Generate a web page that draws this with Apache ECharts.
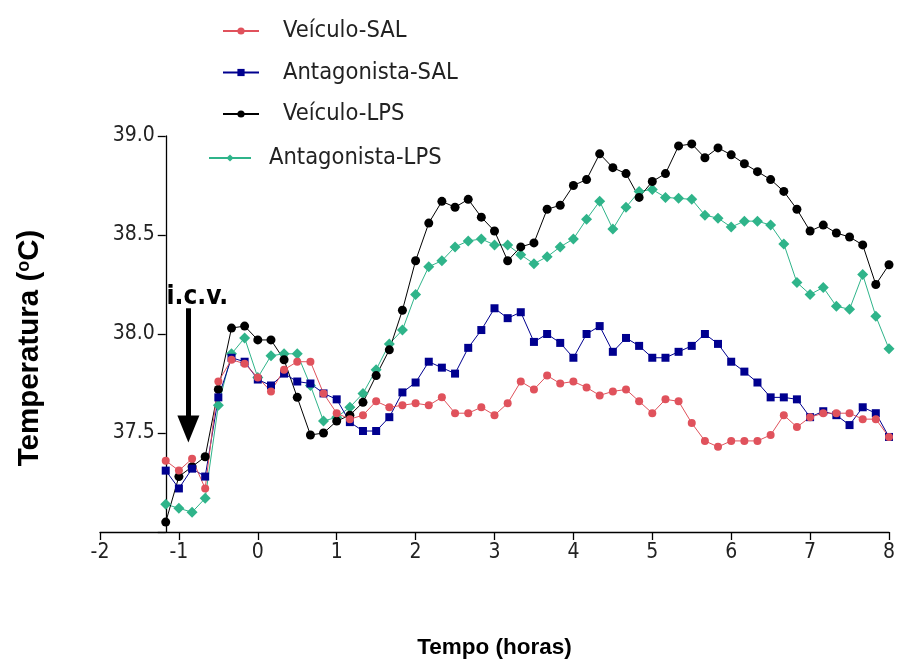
<!DOCTYPE html>
<html>
<head>
<meta charset="utf-8">
<script src="https://cdn.jsdelivr.net/npm/echarts@6/dist/echarts.min.js"></script>
<style>
html,body{margin:0;padding:0;background:#fff;}
#chart{width:898px;height:664px;}
</style>
</head>
<body>
<div id="chart"></div>
<script>
// Time (hours), 10-minute sampling
const tempo = [-1.167,-1.0,-0.833,-0.667,-0.5,-0.333,-0.167,0,0.167,0.333,0.5,0.667,0.833,1.0,1.167,1.333,1.5,1.667,1.833,2.0,
  2.167,2.333,2.5,2.667,2.833,3.0,3.167,3.333,3.5,3.667,3.833,4.0,4.167,4.333,4.5,4.667,4.833,5.0,5.167,5.333,
  5.5,5.667,5.833,6.0,6.167,6.333,6.5,6.667,6.833,7.0,7.167,7.333,7.5,7.667,7.833,8.0];

const veiculoSAL = [37.36,37.31,37.37,37.22,37.76,37.87,37.85,37.78,37.71,37.82,37.86,37.86,37.70,37.60,37.57,37.59,37.66,37.63,37.64,37.65,
  37.64,37.68,37.60,37.60,37.63,37.59,37.65,37.76,37.72,37.79,37.75,37.76,37.73,37.69,37.71,37.72,37.66,37.60,37.67,37.66,
  37.55,37.46,37.43,37.46,37.46,37.46,37.49,37.59,37.53,37.58,37.60,37.60,37.60,37.57,37.57,37.48];

const antagonistaSAL = [37.31,37.22,37.32,37.28,37.68,37.88,37.86,37.77,37.74,37.80,37.76,37.75,37.70,37.67,37.555,37.51,37.51,37.58,37.705,37.755,
  37.86,37.83,37.80,37.93,38.02,38.13,38.08,38.11,37.96,38.00,37.955,37.88,38.00,38.04,37.91,37.98,37.94,37.88,37.88,37.91,
  37.94,38.00,37.95,37.86,37.81,37.755,37.68,37.68,37.67,37.58,37.61,37.59,37.54,37.63,37.60,37.48];

const veiculoLPS = [37.05,37.28,37.33,37.38,37.72,38.03,38.04,37.97,37.97,37.87,37.68,37.49,37.50,37.56,37.59,37.655,37.79,37.92,38.12,38.37,
  38.56,38.67,38.64,38.68,38.59,38.52,38.37,38.44,38.46,38.63,38.65,38.75,38.78,38.91,38.84,38.81,38.69,38.77,38.81,38.95,
  38.96,38.89,38.94,38.905,38.86,38.82,38.78,38.72,38.63,38.52,38.55,38.51,38.49,38.45,38.25,38.35];

const antagonistaLPS = [37.14,37.12,37.10,37.17,37.64,37.90,37.98,37.78,37.89,37.90,37.90,37.74,37.56,37.58,37.63,37.70,37.82,37.95,38.02,38.20,
  38.34,38.37,38.44,38.47,38.48,38.45,38.45,38.40,38.355,38.39,38.44,38.48,38.58,38.67,38.53,38.64,38.72,38.73,38.69,38.685,
  38.68,38.60,38.585,38.54,38.57,38.57,38.55,38.455,38.26,38.20,38.235,38.14,38.125,38.30,38.09,37.925];

const seriesNames = ['Veículo-SAL','Antagonista-SAL','Veículo-LPS','Antagonista-LPS'];
const xTicks = [-2,-1,0,1,2,3,4,5,6,7,8];
const yTicks = [37.5,38.0,38.5,39.0];
const icvTime = -0.88;
const icvFrom = 38.13, icvTo = 37.52;

const pair = (ys) => tempo.map((t,i)=>[t, ys[i]]);
const FONT = '"Liberation Sans", Arial, sans-serif';
const NARROW = '"DejaVu Sans Condensed", "Liberation Sans", sans-serif';

const chart = echarts.init(document.getElementById('chart'), null, {renderer:'canvas'});

function mk(name, data, color, symbol, size, extra) {
  return Object.assign({
    name, type:'line', data: pair(data),
    symbol, symbolSize:size, showSymbol:true,
    lineStyle:{color, width:1},
    itemStyle:{color, borderWidth:0},
    animation:false
  }, extra||{});
}

const legendText = {fontFamily:NARROW, fontSize:23.5, color:'#222', lineHeight:26};

const option = {
  animation:false,
  backgroundColor:'#ffffff',
  grid:{left:100, right:9, top:136, bottom:127, containLabel:false},
  legend:[
    {data:seriesNames.slice(0,3), orient:'vertical', left:217, top:13, itemWidth:36, itemHeight:9, itemGap:15.5,
     textStyle:Object.assign({padding:[0,0,0,19]}, legendText)},
    {data:seriesNames.slice(3), orient:'vertical', left:203, top:140, itemWidth:42, itemHeight:9,
     textStyle:Object.assign({padding:[0,0,0,13]}, legendText)}
  ],
  xAxis:{
    type:'value', min:-2, max:8, interval:1,
    name:'Tempo (horas)', nameLocation:'middle', nameGap:104,
    nameTextStyle:{fontFamily:FONT, fontSize:22.5, fontWeight:'bold', color:'#000'},
    axisLine:{lineStyle:{color:'#000', width:1.3}},
    axisTick:{show:true, length:8, lineStyle:{color:'#000', width:1.3}},
    axisLabel:{fontFamily:NARROW, fontSize:21, color:'#222', margin:10,
      formatter:(v)=> xTicks.includes(v) ? String(v) : ''},
    splitLine:{show:false}
  },
  yAxis:{
    type:'value', min:37, max:39, interval:0.5, offset:-65.75,
    name:'{a|Temperatura (}{s|o}{a|C)}', nameLocation:'middle', nameGap:121, nameRotate:90,
    nameTextStyle:{padding:[0,28,0,0], rich:{
      a:{fontFamily:FONT, fontSize:29.5, fontWeight:'bold', color:'#000'},
      s:{fontFamily:FONT, fontSize:18, fontWeight:'bold', color:'#000', verticalAlign:'top', padding:[0,0,11,0]}
    }},
    axisLine:{show:true, onZero:false, lineStyle:{color:'#000', width:1.3}},
    axisTick:{show:true, length:8, lineStyle:{color:'#000', width:1.3}},
    axisLabel:{fontFamily:NARROW, fontSize:21, color:'#222', margin:11,
      formatter:(v)=> yTicks.some(t=>Math.abs(t-v)<1e-9) ? v.toFixed(1) : ''},
    splitLine:{show:false}
  },
  series:[
    mk('Antagonista-LPS', antagonistaLPS, '#2fb48a', 'diamond', 11),
    mk('Veículo-LPS', veiculoLPS, '#000000', 'circle', 9, {
      markLine:{
        silent:true, symbol:['none','triangle'], symbolSize:[22,27], animation:false,
        lineStyle:{color:'#000', width:5, type:'solid'},
        label:{show:true, position:'start', formatter:'i.c.v.', distance:-2, offset:[9,0],
               fontFamily:NARROW, fontSize:26, fontWeight:'bold', color:'#000'},
        data:[[{coord:[icvTime, icvFrom]},{coord:[icvTime, icvTo]}]]
      }
    }),
    mk('Antagonista-SAL', antagonistaSAL, '#00008f', 'rect', 8),
    mk('Veículo-SAL', veiculoSAL, '#e0525c', 'circle', 8)
  ]
};
chart.setOption(option);
</script>
</body>
</html>
